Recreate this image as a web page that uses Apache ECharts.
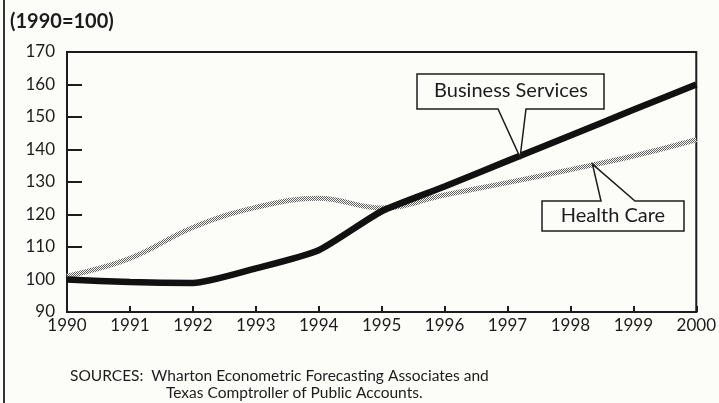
<!DOCTYPE html>
<html>
<head>
<meta charset="utf-8">
<script src="https://cdn.jsdelivr.net/npm/echarts@6/dist/echarts.min.js"></script>
</head>
<body style="margin:0; background:#fcfcf8;">
<div id="container" style="width:719px; height:403px;"></div>
<script type="text/javascript">
	var years = [1990, 1991, 1992, 1993, 1994, 1995, 1996, 1997, 1998, 1999, 2000];
	var business = [100, 99.2, 98.9, 103.4, 109, 121, 128.6, 136.5, 144.3, 152.2, 160];
	var health = [101, 106.5, 116, 122.2, 125, 122, 126, 129.8, 133.8, 138, 143];
	var yTicks = [90, 100, 110, 120, 130, 140, 150, 160, 170];

	// stipple texture for the health care line
	var tex = document.createElement('canvas');
	tex.width = 2; tex.height = 2;
	var tc = tex.getContext('2d');
	tc.fillStyle = '#fcfcf8'; tc.fillRect(0, 0, 2, 2);
	tc.fillStyle = '#5e5e5e'; tc.fillRect(0, 0, 1, 1); tc.fillRect(1, 1, 1, 1);

	var font = 'Lato, "Open Sans", sans-serif';
	var ink = '#1c1c1c';

	function pair(xs, ys) {
		return xs.map(function (x, i) { return [x, ys[i]]; });
	}

	var myChart = echarts.init(document.getElementById('container'));
	var option = {
		backgroundColor: '#fcfcf8',
		animation: false,
		grid: {
			left: 67, right: 15, top: 52, bottom: 91,
			show: true, borderColor: ink, borderWidth: 2, backgroundColor: 'transparent'
		},
		xAxis: {
			type: 'value', min: 1990, max: 2000, interval: 1,
			axisLine: { lineStyle: { color: ink, width: 2 } },
			axisTick: { inside: true, length: 6, lineStyle: { color: ink, width: 2 } },
			axisLabel: {
				color: ink, fontFamily: font, fontSize: 17, margin: 5,
				formatter: function (v) { return String(v); }
			},
			splitLine: { show: false }
		},
		yAxis: {
			type: 'value', min: yTicks[0], max: yTicks[yTicks.length - 1], interval: 10,
			axisLine: { show: true, lineStyle: { color: ink, width: 2 } },
			axisTick: { show: true, inside: true, length: 15, lineStyle: { color: ink, width: 2 } },
			axisLabel: { color: ink, fontFamily: font, fontSize: 17, margin: 12 },
			splitLine: { show: false }
		},
		series: [
			{
				name: 'Health Care',
				type: 'line',
				data: pair(years, health),
				smooth: 0.4,
				showSymbol: false,
				lineStyle: { width: 5, color: { image: tex, repeat: 'repeat' } },
				z: 2
			},
			{
				name: 'Business Services',
				type: 'line',
				data: pair(years, business),
				smooth: 0.2,
				showSymbol: false,
				lineStyle: { width: 6.5, color: '#111' },
				z: 3
			}
		]
	};
	myChart.setOption(option);

	// callouts: tips anchored on the lines through the chart's own scales
	var bsTip = myChart.convertToPixel({ seriesIndex: 1 }, [1997.2, 137.6]);
	var hcTip = myChart.convertToPixel({ seriesIndex: 0 }, [1998.35, 135.5]);

	myChart.setOption({
		graphic: [
			{ type: 'line', shape: { x1: 4, y1: 0, x2: 4, y2: 403 }, style: { stroke: '#333', lineWidth: 2 } },
			{ type: 'text', left: 10, top: 12, style: { text: '(1990=100)', font: 'bold 20px ' + font, fill: ink } },
			// Business Services box
			{ type: 'polygon', shape: { points: [[417, 74], [604, 74], [604, 109], [526, 109], bsTip, [498, 109], [417, 109]] },
				style: { fill: '#fcfcf8', stroke: ink, lineWidth: 1.5 }, z: 10 },
			{ type: 'text', x: 511, y: 91, style: { text: 'Business Services', font: '20px ' + font, fill: ink, align: 'center', verticalAlign: 'middle' }, z: 11 },
			// Health Care box
			{ type: 'polygon', shape: { points: [[542, 201], [601, 201], hcTip, [635, 201], [684, 201], [684, 231], [542, 231]] },
				style: { fill: '#fcfcf8', stroke: ink, lineWidth: 1.5 }, z: 10 },
			{ type: 'text', x: 613, y: 216, style: { text: 'Health Care', font: '20px ' + font, fill: ink, align: 'center', verticalAlign: 'middle' }, z: 11 },
			// sources
			{ type: 'text', left: 70, top: 368, style: { text: 'SOURCES:  Wharton Econometric Forecasting Associates and', font: '15.5px ' + font, fill: ink } },
			{ type: 'text', left: 166, top: 385, style: { text: 'Texas Comptroller of Public Accounts.', font: '15.5px ' + font, fill: ink } }
		]
	});
</script>
</body>
</html>
